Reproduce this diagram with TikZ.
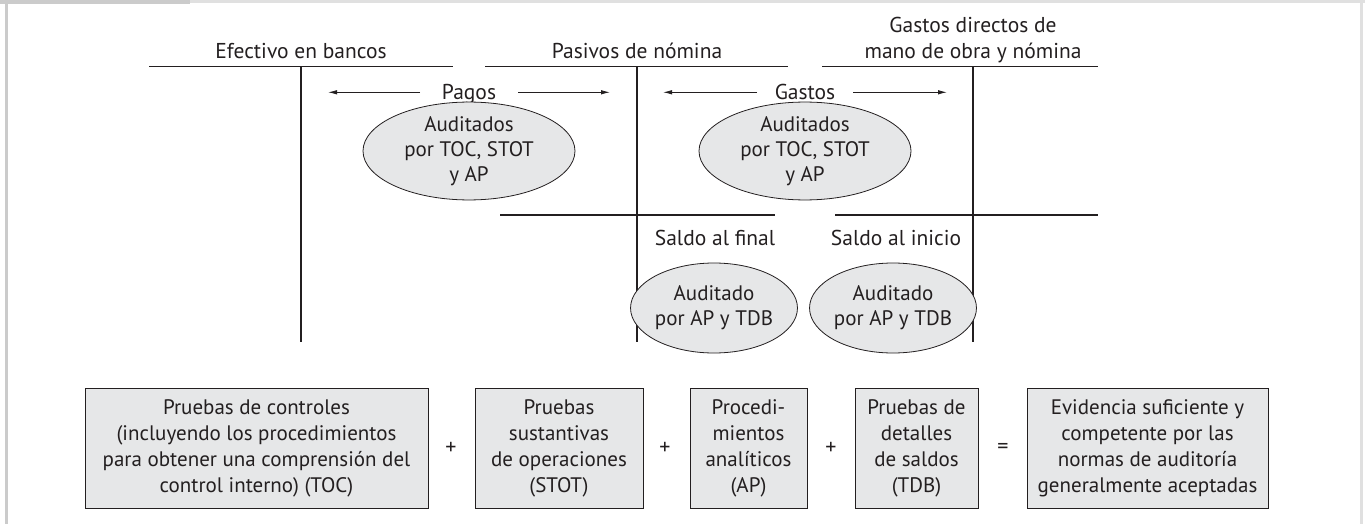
\documentclass[tikz,border=0pt]{standalone}
\usepackage{fontspec}
\setmainfont{PT Sans}
\usetikzlibrary{shapes.geometric,arrows.meta}
\definecolor{fillg}{HTML}{E6E7E8}
\definecolor{frameg}{HTML}{CBCBCB}
\definecolor{framel}{HTML}{E0E0E0}
\definecolor{ink}{HTML}{231F20}
\begin{document}
\begin{tikzpicture}[x=1pt,y=-1pt,
  tline/.style={draw=ink,line width=1.1pt},
  arr/.style={draw=ink,line width=0.9pt,-{Latex[length=9pt,width=4.5pt]}},
  lbl/.style={inner sep=0pt,text=ink,font=\fontsize{21.5}{25}\selectfont},
  oval/.style={ellipse,draw=ink,fill=fillg,line width=0.8pt,inner sep=0pt,align=center,text=ink,font=\fontsize{21}{25}\selectfont},
  card/.style={rectangle,draw=ink,fill=fillg,line width=1pt,inner sep=0pt,minimum height=120pt,align=center,text=ink,font=\fontsize{21}{26}\selectfont},
  sign/.style={inner sep=0pt,text=ink,font=\fontsize{22}{26}\selectfont}
]
\useasboundingbox (0,0) rectangle (1365,524);
% frame
\fill[framel] (190,0) rectangle (1365,3.5);
\fill[frameg] (0,0) rectangle (190,4.5);
\fill[frameg] (5,4.5) rectangle (7.5,524);
\fill[framel] (1360,0) rectangle (1363,524);

% T-account titles
\node[lbl,anchor=base] (tEf) at (301,58.5) {Efectivo en bancos};
\node[lbl,anchor=base] (tPa) at (637,58.5) {Pasivos de nómina};
\node[lbl,anchor=base] (tGa1) at (973,32.5) {Gastos directos de};
\node[lbl,anchor=base] (tGa2) at (973,58.5) {mano de obra y nómina};

% T-account lines
\coordinate (ef-l) at (149,66.7); \coordinate (ef-r) at (453,66.7);
\coordinate (ef-t) at (301,66.7); \coordinate (ef-b) at (301,342);
\coordinate (pa-l) at (485,66.7); \coordinate (pa-r) at (788,66.7);
\coordinate (pa-t) at (637,66.7); \coordinate (pa-b) at (637,342);
\coordinate (ga-l) at (822,66.7); \coordinate (ga-r) at (1098,66.7);
\coordinate (ga-t) at (973,66.7); \coordinate (ga-b) at (973,342);
\coordinate (s1-l) at (500,215); \coordinate (s1-r) at (775,215);
\coordinate (s2-l) at (835,215); \coordinate (s2-r) at (1098,215);
\draw[tline] (ef-l) -- (ef-r);
\draw[tline] (ef-t) -- (ef-b);
\draw[tline] (pa-l) -- (pa-r);
\draw[tline] (pa-t) -- (pa-b);
\draw[tline] (ga-l) -- (ga-r);
\draw[tline] (ga-t) -- (ga-b);
\draw[tline] (s1-l) -- (s1-r);
\draw[tline] (s2-l) -- (s2-r);

% flows
\node[lbl,anchor=base] (pagos) at (469,99.5) {Pagos};
\node[lbl,anchor=base] (gastos) at (805,99.5) {Gastos};
\coordinate (pg-a) at (420,92.3); \coordinate (pg-at) at (328,92.3);
\coordinate (pg-b) at (518,92.3); \coordinate (pg-bt) at (610,92.3);
\coordinate (gs-a) at (757,92.3); \coordinate (gs-at) at (663,92.3);
\coordinate (gs-b) at (853,92.3); \coordinate (gs-bt) at (947,92.3);
\draw[arr] (pg-a) -- (pg-at);
\draw[arr] (pg-b) -- (pg-bt);
\draw[arr] (gs-a) -- (gs-at);
\draw[arr] (gs-b) -- (gs-bt);

\node[oval,minimum width=212pt,minimum height=92pt] (o1) at (469,151) {Auditados\\por TOC, STOT\\y AP};
\node[oval,minimum width=212pt,minimum height=92pt] (o2) at (805,151) {Auditados\\por TOC, STOT\\y AP};

\node[lbl,anchor=base] (sf) at (715,245) {Saldo al final};
\node[lbl,anchor=base] (si) at (896,245) {Saldo al inicio};
\node[oval,minimum width=146pt,minimum height=90pt] (o3) at (714,308) {Auditado\\por AP y TDB};
\node[oval,minimum width=146pt,minimum height=90pt] (o4) at (893,308) {Auditado\\por AP y TDB};

% bottom equation
\node[card,minimum width=343pt] (b1) at (256.5,448) {Pruebas de controles\\(incluyendo los procedimientos\\para obtener una comprensión del\\control interno) (TOC)};
\node[sign] (p1) at (451,448) {+};
\node[card,minimum width=168pt] (b2) at (559,448) {Pruebas\\sustantivas\\de operaciones\\(STOT)};
\node[sign] (p2) at (665,448) {+};
\node[card,minimum width=117pt] (b3) at (748.5,448) {Procedi-\\mientos\\analíticos\\(AP)};
\node[sign] (p3) at (831,448) {+};
\node[card,minimum width=123pt] (b4) at (916.5,448) {Pruebas de\\detalles\\de saldos\\(TDB)};
\node[sign] (eq) at (1003,448) {=};
\node[card,minimum width=241pt] (b5) at (1147.5,448) {Evidencia suficiente y\\competente por las\\normas de auditoría\\generalmente aceptadas};
\end{tikzpicture}
\end{document}
